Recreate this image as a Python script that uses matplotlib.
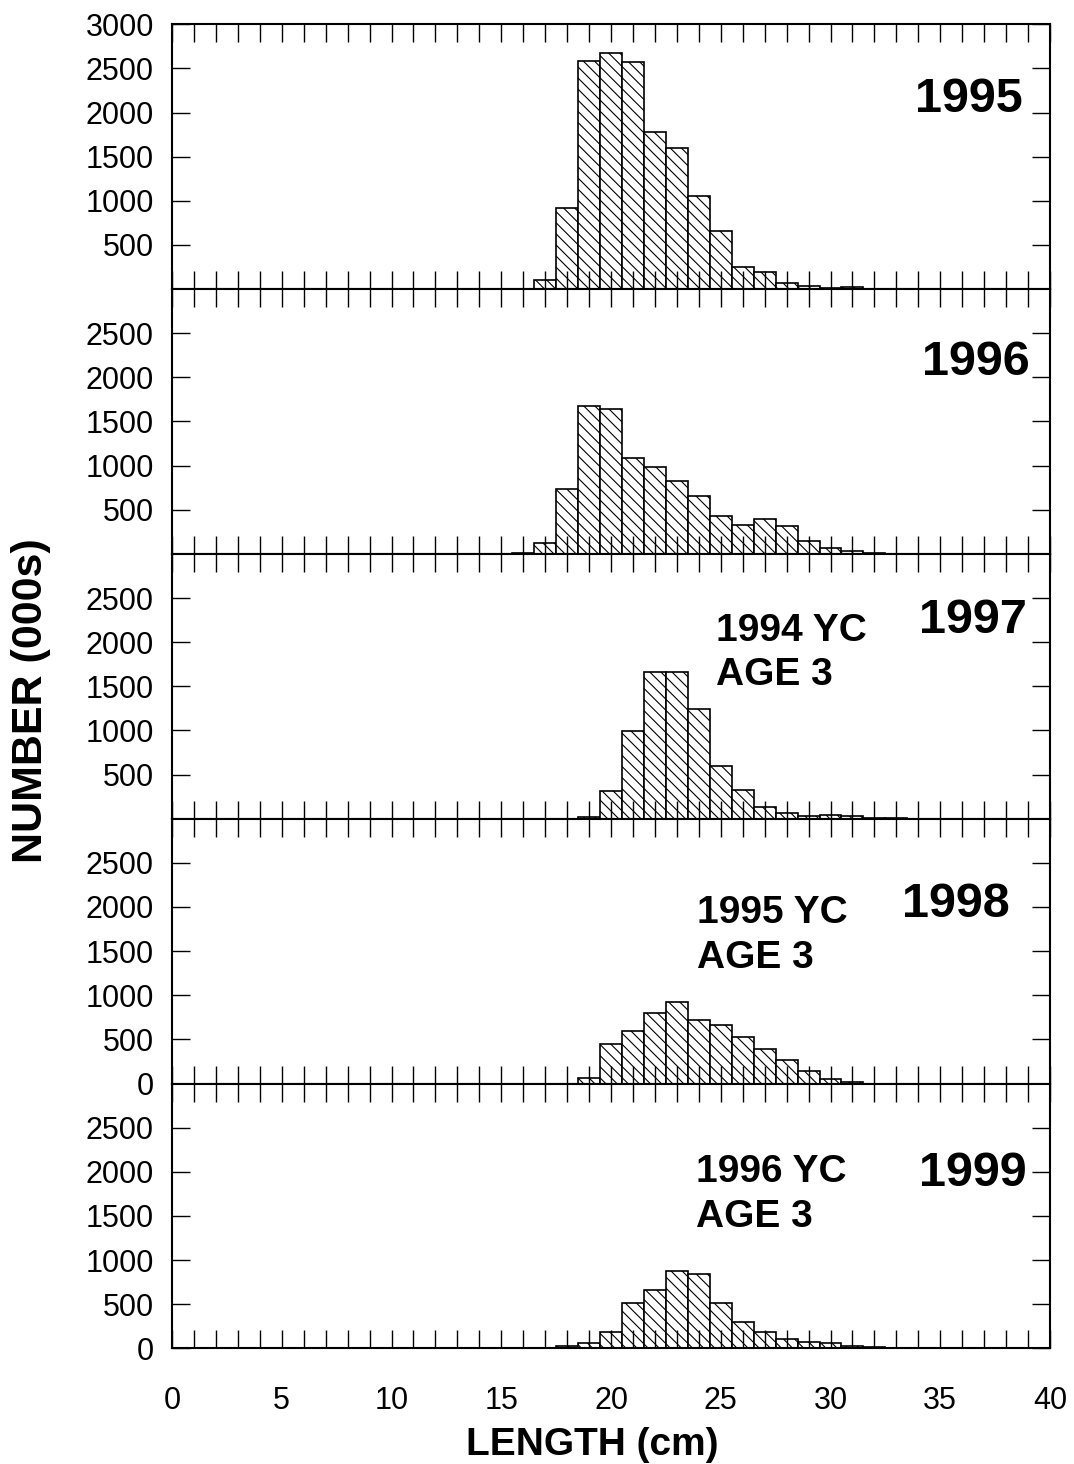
import matplotlib
matplotlib.use('Agg')
import matplotlib.pyplot as plt
import numpy as np

# length frequency (000s) by 1 cm length class, per survey year
years = ['1995', '1996', '1997', '1998', '1999']

len_1995 = list(range(17, 32))
n_1995 = [100, 915, 2580, 2675, 2575, 1780, 1600, 1050, 655, 255, 195, 70, 30, 8, 20]

len_1996 = list(range(16, 33))
n_1996 = [10, 125, 735, 1670, 1645, 1085, 985, 830, 655, 430, 325, 390, 320, 150, 65, 30, 10]

len_1997 = list(range(19, 34))
n_1997 = [15, 315, 990, 1665, 1665, 1240, 600, 325, 135, 65, 25, 40, 25, 8, 5]

len_1998 = list(range(19, 32))
n_1998 = [60, 445, 600, 795, 925, 720, 660, 530, 390, 270, 140, 50, 15]

len_1999 = list(range(15, 33))
n_1999 = [8, 0, 8, 23, 57, 186, 508, 663, 875, 845, 508, 299, 186, 106, 72, 57, 23, 11]

cohort_notes = {'1997': ['1994 YC', 'AGE 3'],
                '1998': ['1995 YC', 'AGE 3'],
                '1999': ['1996 YC', 'AGE 3']}

ytick_sets = [[500, 1000, 1500, 2000, 2500, 3000],
              [500, 1000, 1500, 2000, 2500],
              [500, 1000, 1500, 2000, 2500],
              [0, 500, 1000, 1500, 2000, 2500],
              [0, 500, 1000, 1500, 2000, 2500]]

series = [(len_1995, n_1995), (len_1996, n_1996), (len_1997, n_1997),
          (len_1998, n_1998), (len_1999, n_1999)]

plt.rcParams['font.family'] = ['Liberation Sans', 'DejaVu Sans']
plt.rcParams['hatch.linewidth'] = 0.8

W, H = 1074, 1464
fig = plt.figure(figsize=(W / 100, H / 100), dpi=100)


def px(x, y):
    """pixel position (from top-left) to figure fraction"""
    return x / W, 1 - y / H


left_px, right_px = 172, 1050
top_px, panel_h = 24.3, 264.8

# year label placement: right edge x, baseline y (pixels)
year_pos = [(1023, 112), (1030, 375), (1027, 633), (1010, 917), (1027, 1186)]
note_pos = {'1997': (716, 641, 685), '1998': (697, 923, 968), '1999': (696, 1182, 1227)}

axes = []
for i, (xs, ns) in enumerate(series):
    y0 = top_px + (i + 1) * panel_h
    ax = fig.add_axes([left_px / W, 1 - y0 / H, (right_px - left_px) / W, panel_h / H])
    ax.bar(xs, ns, width=1.0, align='center', facecolor='white',
           edgecolor='black', linewidth=1.2, hatch='\\\\\\')
    ax.set_xlim(0, 40)
    ax.set_ylim(0, 3000)
    ax.set_xticks(range(0, 41))
    if i == len(series) - 1:
        ax.set_xticklabels([str(v) if v % 5 == 0 else '' for v in range(0, 41)])
    else:
        ax.set_xticklabels([])
    ax.set_yticks(ytick_sets[i])
    ax.tick_params(axis='x', direction='in', top=True, bottom=True, length=13,
                   width=1.0, labelsize=22, pad=27)
    ax.tick_params(axis='y', direction='in', left=True, right=True, length=13,
                   width=1.0, labelsize=22, pad=13)
    for sp in ax.spines.values():
        sp.set_linewidth(1.5)
    axes.append(ax)

    xr, yb = year_pos[i]
    fx, fy = px(xr, yb)
    fig.text(fx, fy, years[i], fontsize=35, fontweight='bold',
             ha='right', va='baseline')

    if years[i] in cohort_notes:
        xl, b1, b2 = note_pos[years[i]]
        line1, line2 = cohort_notes[years[i]]
        fig.text(*px(xl, b1), line1, fontsize=28, fontweight='bold', ha='left', va='baseline')
        fig.text(*px(xl, b2), line2, fontsize=28, fontweight='bold', ha='left', va='baseline')

fig.text(*px(31, 701), 'NUMBER (000s)', fontsize=31, fontweight='bold',
         rotation=90, ha='center', va='center')
fig.text(*px(592, 1455), 'LENGTH (cm)', fontsize=28, fontweight='bold',
         ha='center', va='baseline')

fig.savefig('out.png', dpi=100, facecolor='white')
